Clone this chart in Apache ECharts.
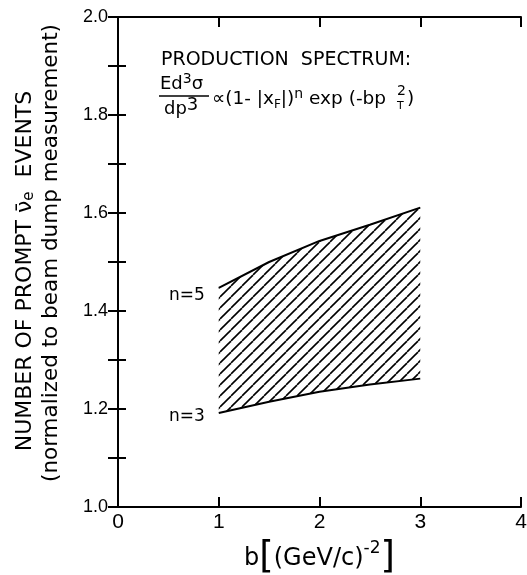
<!DOCTYPE html>
<html>
<head>
<meta charset="utf-8">
<script src="https://cdn.jsdelivr.net/npm/echarts@6/dist/echarts.min.js"></script>
<style>
  html, body { margin: 0; padding: 0; background: #fff; }
  #chart { width: 527px; height: 575px; }
</style>
</head>
<body>
<div id="chart"></div>
<script>
const bValues = [1, 1.5, 2, 2.5, 3];
const lowerN3 = [1.192, 1.215, 1.235, 1.250, 1.262];
const upperN5 = [1.447, 1.500, 1.543, 1.576, 1.611];
const xTickLabels = ["0", "1", "2", "3", "4"];
const yTickLabels = ["1.0", "1.2", "1.4", "1.6", "1.8", "2.0"];

const WIDE = "DejaVu Sans";
const NUM = "Liberation Sans";

// diagonal "/" hatch used for the band between the two curves
function makeHatch() {
    const size = 11;
    const c = document.createElement("canvas");
    c.width = size;
    c.height = size;
    const ctx = c.getContext("2d");
    ctx.strokeStyle = "#000";
    ctx.lineWidth = 1.6;
    for (const k of [-size, 0, size]) {
        ctx.beginPath();
        ctx.moveTo(k, size);
        ctx.lineTo(k + size, 0);
        ctx.stroke();
    }
    return c;
}
const hatch = makeHatch();

// one polygon: n=5 points left to right, then n=3 points back
function renderBand(params, api) {
    if (params.dataIndex !== 0) return null;
    const n = params.dataInsideLength;
    const pts = [];
    for (let i = 0; i < n; i++) pts.push(api.coord([api.value(0, i), api.value(2, i)]));
    for (let i = n - 1; i >= 0; i--) pts.push(api.coord([api.value(0, i), api.value(1, i)]));
    return {
        type: "polygon",
        shape: { points: pts },
        style: { fill: { image: hatch, repeat: "repeat" } }
    };
}

const chart = echarts.init(document.getElementById("chart"), null, { renderer: "canvas" });

const axisLine = { show: true, lineStyle: { color: "#000", width: 2 } };
const tick = (len) => ({ show: true, inside: true, length: len, lineStyle: { color: "#000", width: 2 } });

chart.setOption({
    animation: false,
    backgroundColor: "#fff",
    grid: { left: 118, right: 6, top: 17, bottom: 68, outerBoundsMode: "none", containLabel: false },
    xAxis: [
        {
            type: "value", position: "bottom", min: 0, max: 4, interval: 1, z: 10,
            axisLine, axisTick: tick(10), splitLine: { show: false },
            axisLabel: {
                color: "#000", fontSize: 21, fontFamily: NUM, margin: 5,
                formatter: (v) => xTickLabels.includes(String(v)) ? String(v) : ""
            },
            name: "b{br|[}(GeV/c){sup|-2}{br|]}",
            nameLocation: "middle",
            nameGap: 33,
            nameTextStyle: {
                color: "#000", fontSize: 24, fontFamily: WIDE,
                rich: {
                    br: { fontSize: 37, fontFamily: WIDE, color: "#000" },
                    sup: { fontSize: 17, fontFamily: WIDE, color: "#000", verticalAlign: "top", padding: [0, 0, 16, 0] }
                }
            }
        },
        {
            type: "value", position: "top", min: 0, max: 4, interval: 1, z: 10,
            axisLine, axisTick: tick(10), axisLabel: { show: false }, splitLine: { show: false }
        }
    ],
    yAxis: [
        {
            type: "value", position: "left", min: 1, max: 2, interval: 0.1, z: 10,
            axisLine, axisTick: tick(8), splitLine: { show: false },
            axisLabel: {
                color: "#000", fontSize: 18, fontFamily: NUM, margin: 10,
                formatter: (v) => {
                    const s = v.toFixed(1);
                    return yTickLabels.includes(s) ? s : "";
                }
            }
        },
        {
            type: "value", position: "right", min: 1, max: 2, interval: 0.1, z: 10,
            axisLine, axisTick: tick(10), axisLabel: { show: false }, splitLine: { show: false }
        }
    ],
    series: [
        {
            name: "band",
            type: "custom",
            silent: true,
            z: 1,
            renderItem: renderBand,
            encode: { x: 0, y: [1, 2] },
            data: bValues.map((b, i) => [b, lowerN3[i], upperN5[i]])
        },
        {
            name: "n=5",
            type: "line",
            z: 3,
            silent: true,
            symbol: "none",
            lineStyle: { color: "#000", width: 2 },
            data: bValues.map((b, i) => [b, upperN5[i]])
        },
        {
            name: "n=3",
            type: "line",
            z: 3,
            silent: true,
            symbol: "none",
            lineStyle: { color: "#000", width: 2 },
            data: bValues.map((b, i) => [b, lowerN3[i]])
        }
    ],
    graphic: [
        {
            type: "text", x: 25, y: 271, rotation: Math.PI / 2,
            style: {
                text: "NUMBER OF PROMPT {nu|ν̄}{sub|e}  EVENTS",
                fill: "#000", font: `22px "${WIDE}"`, align: "center", verticalAlign: "middle",
                rich: {
                    nu: { fontSize: 22, fontFamily: WIDE },
                    sub: { fontSize: 15, fontFamily: WIDE, verticalAlign: "bottom", padding: [9, 0, 0, 0] }
                }
            }
        },
        {
            type: "text", x: 51, y: 253, rotation: Math.PI / 2,
            style: {
                text: "(normalized to beam dump measurement)",
                fill: "#000", font: `21.5px "${WIDE}"`, align: "center", verticalAlign: "middle"
            }
        },
        {
            type: "text", x: 161, y: 60,
            style: { text: "PRODUCTION  SPECTRUM:", fill: "#000", font: `19px "${WIDE}"`, verticalAlign: "middle" }
        },
        {
            type: "text", x: 160, y: 84,
            style: {
                text: "Ed{sup|3}σ", fill: "#000", font: `18px "${WIDE}"`, verticalAlign: "middle",
                rich: { sup: { fontSize: 14, fontFamily: WIDE, verticalAlign: "top", padding: [0, 0, 9, 0] } }
            }
        },
        {
            type: "line", shape: { x1: 159, y1: 96, x2: 209, y2: 96 },
            style: { stroke: "#000", lineWidth: 1.6 }
        },
        {
            type: "text", x: 164, y: 109,
            style: {
                text: "dp{sup|3}", fill: "#000", font: `18px "${WIDE}"`, verticalAlign: "middle",
                rich: { sup: { fontSize: 18, fontFamily: WIDE, verticalAlign: "top", padding: [0, 0, 8, 0] } }
            }
        },
        {
            type: "text", x: 212, y: 99,
            style: {
                text: "∝(1- |x{sub|F}|){sup|n} exp (-bp",
                fill: "#000", font: `18.5px "${WIDE}"`, verticalAlign: "middle",
                rich: {
                    sub: { fontSize: 12, fontFamily: WIDE, verticalAlign: "bottom", padding: [7, 0, 0, 0] },
                    sup: { fontSize: 14, fontFamily: WIDE, verticalAlign: "top", padding: [0, 0, 9, 0] }
                }
            }
        },
        {
            type: "text", x: 397, y: 91,
            style: { text: "2", fill: "#000", font: `14px "${WIDE}"`, verticalAlign: "middle" }
        },
        {
            type: "text", x: 397, y: 106,
            style: { text: "T", fill: "#000", font: `11px "${WIDE}"`, verticalAlign: "middle" }
        },
        {
            type: "text", x: 407, y: 99,
            style: { text: ")", fill: "#000", font: `18.5px "${WIDE}"`, verticalAlign: "middle" }
        },
        {
            type: "text", x: 169, y: 296,
            style: { text: "n=5", fill: "#000", font: `17px "${WIDE}"`, verticalAlign: "middle" }
        },
        {
            type: "text", x: 169, y: 417,
            style: { text: "n=3", fill: "#000", font: `17px "${WIDE}"`, verticalAlign: "middle" }
        }
    ]
});
</script>
</body>
</html>
